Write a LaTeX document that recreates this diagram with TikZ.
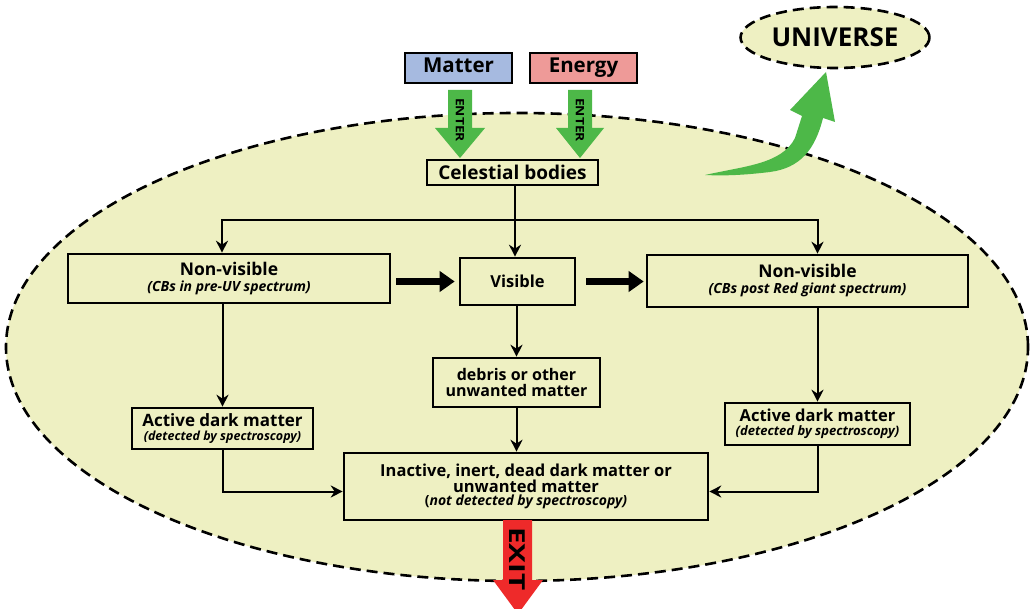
\documentclass[tikz,border=0pt]{standalone}
\usepackage{fontspec}
\setmainfont{Open Sans}
\usetikzlibrary{arrows.meta,calc,shapes.geometric}
\definecolor{bgfill}{HTML}{EEF0C2}
\definecolor{mattercol}{HTML}{A6BAE0}
\definecolor{energycol}{HTML}{EE9A98}
\definecolor{entergreen}{HTML}{4DB848}
\definecolor{exitred}{HTML}{EE2A2A}
\newcommand{\fsz}[1]{\fontsize{#1}{#1}\selectfont}
\begin{document}
\begin{tikzpicture}[x=1pt,y=-1pt,
  box/.style={draw=black, line width=2.6pt, inner sep=0pt, align=center, font=\bfseries},
  flow/.style={line width=2pt, -{Stealth[length=12pt,width=12pt]}},
  bigflow/.style={line width=7pt, -{Triangle[length=15pt,width=20pt]}},
  dashline/.style={line width=2.6pt, dash pattern=on 11pt off 6pt},
]
\useasboundingbox (0,0) rectangle (1030,609);
\clip (0,0) rectangle (1030,609);
\fill[white] (0,0) rectangle (1030,609);

% the enclosing region
\draw[dashline, fill=bgfill] (517,347) ellipse [x radius=511pt, y radius=234pt];

% universe label
\node[ellipse, draw=black, dashline, fill=bgfill, minimum width=184pt, minimum height=61pt,
      font=\bfseries\fsz{26}] (uni) at (835,37.5) {UNIVERSE};

% inputs
\node[box, fill=mattercol, minimum width=107pt, minimum height=30pt, text height=15pt, text depth=5pt,
      font=\bfseries\fsz{20.5}] (matter) at (458.5,68) {Matter};
\node[box, fill=energycol, minimum width=107pt, minimum height=30pt, text height=15pt, text depth=5pt,
      font=\bfseries\fsz{20.5}] (energy) at (583.5,68) {Energy};

% flow boxes
\node[box, minimum width=171pt, minimum height=25pt, font=\bfseries\fsz{19}]
  (cb) at (512.5,172.5) {Celestial bodies};
\node[box, minimum width=322pt, minimum height=49pt]
  (nvl) at (229,278.5) {{\fsz{17.5}Non-visible}\\[4pt]{\bfseries\itshape\fsz{14}(CBs in pre-UV spectrum)}};
\node[box, minimum width=115pt, minimum height=47pt, font=\bfseries\fsz{16.5}]
  (vis) at (517.5,281.5) {Visible};
\node[box, minimum width=321pt, minimum height=52pt]
  (nvr) at (807.5,281) {{\fsz{17.5}Non-visible}\\[4pt]{\bfseries\itshape\fsz{14}(CBs post Red giant spectrum)}};
\node[box, minimum width=167pt, minimum height=49pt, font=\bfseries\fsz{16}]
  (deb) at (516.5,382.5) {debris or other\\[0pt]unwanted matter};
\node[box, minimum width=181pt, minimum height=41pt]
  (adl) at (222.5,428.5) {{\fsz{17}Active dark matter}\\[2pt]{\bfseries\itshape\fsz{12.5}(detected by spectroscopy)}};
\node[box, minimum width=185pt, minimum height=42pt]
  (adr) at (817.5,424) {{\fsz{16.5}Active dark matter}\\[2pt]{\bfseries\itshape\fsz{13}(detected by spectroscopy)}};
\node[box, minimum width=364pt, minimum height=67pt]
  (ina) at (526,486.5) {{\fsz{16.5}Inactive, inert, dead dark matter or}\\[0pt]{\fsz{16.5}unwanted matter}\\[1pt]{\bfseries\fsz{14}(\textit{not detected by spectroscopy)}}};

% connectors
\coordinate (split) at (515,220);
\draw[line width=2pt] (split |- cb.south) -- (split);
\draw[flow] (split) -| ([xshift=-7pt]nvl.north);
\draw[flow] (split) -| ([xshift=10pt]nvr.north);
\draw[flow] (split) -- (split |- vis.north);
\draw[bigflow, shorten <=5pt, shorten >=4pt] (nvl.east |- vis.west) -- (vis.west);
\draw[bigflow, shorten <=10pt, shorten >=2pt] (vis.east) -- (nvr.west |- vis.east);
\draw[flow] (deb.north |- vis.south) -- (deb.north);
\draw[flow] (deb.south) -- (deb.south |- ina.north);
\draw[flow] (adl.north |- nvl.south) -- (adl.north);
\draw[flow] (adr.north |- nvr.south) -- (adr.north);
\draw[flow] (adl.south) |- ([yshift=-5pt]ina.west);
\draw[flow] (adr.south) |- ([yshift=-5pt]ina.east);

% entry arrows
\fill[entergreen] (448,90) -- (472,90) -- (472,128) -- (485,128) -- (460,158) -- (435,128) -- (448,128) -- cycle;
\node[rotate=-90, font=\bfseries\fsz{11.5}, inner sep=0pt] (entm) at (460,120) {\scalebox{1.2}[1]{ENTER}};
\fill[entergreen] (568,90) -- (592,90) -- (592,128) -- (604,128) -- (580,158) -- (556,128) -- (568,128) -- cycle;
\node[rotate=-90, font=\bfseries\fsz{11.5}, inner sep=0pt] (ente) at (580,120) {\scalebox{1.2}[1]{ENTER}};

% exit arrow
\fill[exitred] (503,520) -- (532,520) -- (532,580) -- (543,580) -- (518,614) -- (493,580) -- (503,580) -- cycle;
\node[rotate=-90, font=\bfseries\fsz{22}, inner sep=0pt] (exit) at (517.5,559) {\scalebox{1.35}[1]{EXIT}};

% release into the universe
\fill[entergreen] (705,175) .. controls (745,166) and (782,164) .. (795,138)
  -- (802,116) -- (790,110) -- (826,72) -- (835,122) -- (823,118)
  .. controls (815,150) and (800,168) .. (770,172)
  .. controls (745,175) and (725,176) .. (705,175) -- cycle;
\end{tikzpicture}
\end{document}
